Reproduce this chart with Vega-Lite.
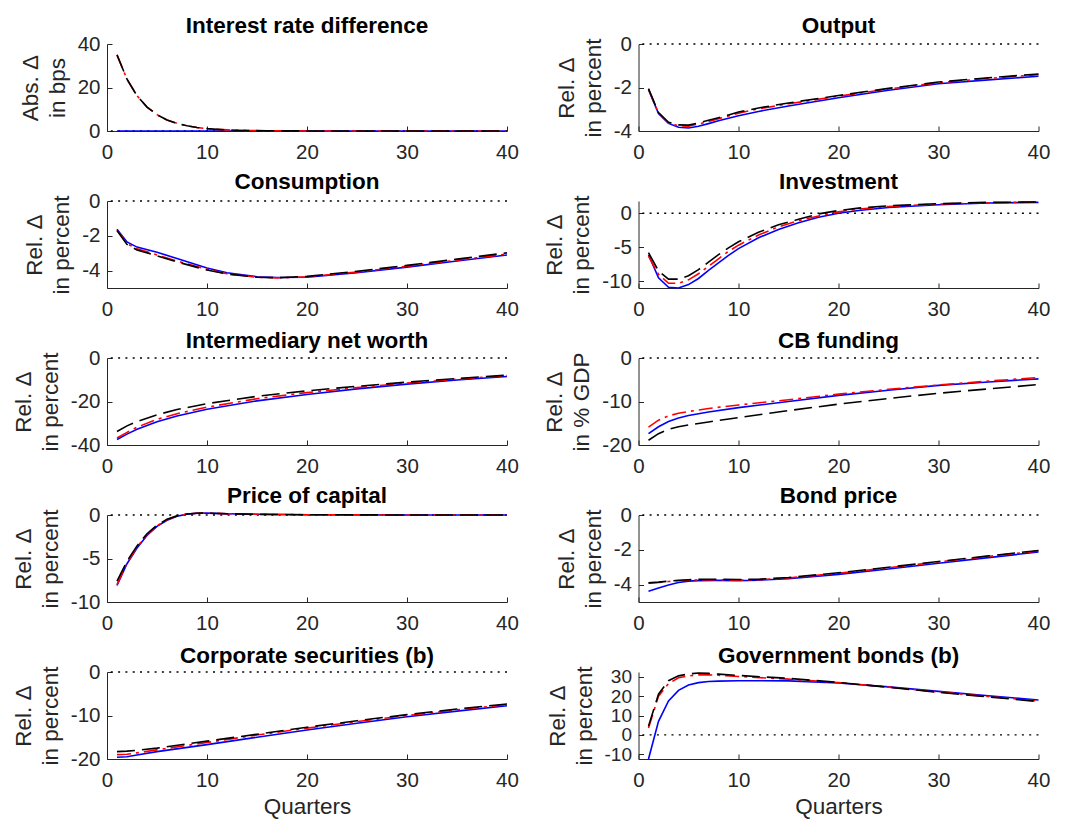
{
"$schema": "https://vega.github.io/schema/vega-lite/v6.json",
"autosize": "none",
"padding": {"left": 107, "top": 44, "right": 958, "bottom": 776},
"background": "white",
"data": {"values": [
{"p":"ir","q":1,"b":0,"r":35,"k":35},{"p":"ir","q":2,"b":0,"r":23.8,"k":23.8},{"p":"ir","q":3,"b":0,"r":16.2,"k":16.2},{"p":"ir","q":4,"b":0,"r":11,"k":11},{"p":"ir","q":5,"b":0,"r":7.5,"k":7.5},{"p":"ir","q":6,"b":0,"r":5.1,"k":5.1},{"p":"ir","q":7,"b":0,"r":3.5,"k":3.5},{"p":"ir","q":8,"b":0,"r":2.4,"k":2.4},{"p":"ir","q":9,"b":0,"r":1.6,"k":1.6},{"p":"ir","q":10,"b":0,"r":1.1,"k":1.1},{"p":"ir","q":11,"b":0,"r":0.75,"k":0.75},{"p":"ir","q":12,"b":0,"r":0.5,"k":0.5},{"p":"ir","q":13,"b":0,"r":0.35,"k":0.35},{"p":"ir","q":14,"b":0,"r":0.24,"k":0.24},{"p":"ir","q":15,"b":0,"r":0.16,"k":0.16},{"p":"ir","q":16,"b":0,"r":0.1,"k":0.1},{"p":"ir","q":20,"b":0,"r":0.02,"k":0.02},{"p":"ir","q":30,"b":0,"r":0,"k":0},{"p":"ir","q":40,"b":0,"r":0,"k":0},
{"p":"out","q":1,"b":-2.1,"r":-2.08,"k":-2.05},{"p":"out","q":2,"b":-3.2,"r":-3.18,"k":-3.15},{"p":"out","q":3,"b":-3.65,"r":-3.63,"k":-3.6},{"p":"out","q":4,"b":-3.83,"r":-3.76,"k":-3.72},{"p":"out","q":5,"b":-3.86,"r":-3.78,"k":-3.73},{"p":"out","q":6,"b":-3.78,"r":-3.68,"k":-3.63},{"p":"out","q":7,"b":-3.66,"r":-3.56,"k":-3.51},{"p":"out","q":8,"b":-3.53,"r":-3.44,"k":-3.39},{"p":"out","q":9,"b":-3.41,"r":-3.31,"k":-3.26},{"p":"out","q":10,"b":-3.3,"r":-3.18,"k":-3.13},{"p":"out","q":12,"b":-3.1,"r":-2.98,"k":-2.94},{"p":"out","q":15,"b":-2.85,"r":-2.75,"k":-2.71},{"p":"out","q":20,"b":-2.47,"r":-2.4,"k":-2.37},{"p":"out","q":25,"b":-2.13,"r":-2.07,"k":-2.04},{"p":"out","q":30,"b":-1.83,"r":-1.78,"k":-1.75},{"p":"out","q":35,"b":-1.65,"r":-1.58,"k":-1.55},{"p":"out","q":40,"b":-1.48,"r":-1.41,"k":-1.38},
{"p":"con","q":1,"b":-1.63,"r":-1.68,"k":-1.7},{"p":"con","q":2,"b":-2.35,"r":-2.45,"k":-2.5},{"p":"con","q":3,"b":-2.65,"r":-2.75,"k":-2.82},{"p":"con","q":5,"b":-2.95,"r":-3.1,"k":-3.15},{"p":"con","q":7,"b":-3.3,"r":-3.45,"k":-3.5},{"p":"con","q":10,"b":-3.85,"r":-3.93,"k":-3.97},{"p":"con","q":12,"b":-4.12,"r":-4.18,"k":-4.2},{"p":"con","q":15,"b":-4.35,"r":-4.38,"k":-4.38},{"p":"con","q":17,"b":-4.4,"r":-4.42,"k":-4.41},{"p":"con","q":20,"b":-4.38,"r":-4.36,"k":-4.33},{"p":"con","q":25,"b":-4.12,"r":-4.08,"k":-4.04},{"p":"con","q":30,"b":-3.8,"r":-3.75,"k":-3.7},{"p":"con","q":35,"b":-3.45,"r":-3.4,"k":-3.34},{"p":"con","q":40,"b":-3.1,"r":-3.05,"k":-2.98},
{"p":"inv","q":1,"b":-6.1,"r":-6.3,"k":-5.8},{"p":"inv","q":2,"b":-9.5,"r":-9.0,"k":-8.5},{"p":"inv","q":3,"b":-10.9,"r":-10.3,"k":-9.7},{"p":"inv","q":4,"b":-11.0,"r":-10.3,"k":-9.7},{"p":"inv","q":5,"b":-10.5,"r":-9.8,"k":-9.2},{"p":"inv","q":6,"b":-9.6,"r":-8.9,"k":-8.3},{"p":"inv","q":7,"b":-8.4,"r":-7.8,"k":-7.2},{"p":"inv","q":8,"b":-7.3,"r":-6.7,"k":-6.1},{"p":"inv","q":9,"b":-6.2,"r":-5.6,"k":-5.1},{"p":"inv","q":10,"b":-5.2,"r":-4.7,"k":-4.2},{"p":"inv","q":12,"b":-3.6,"r":-3.2,"k":-2.8},{"p":"inv","q":14,"b":-2.4,"r":-2.0,"k":-1.7},{"p":"inv","q":16,"b":-1.4,"r":-1.1,"k":-0.9},{"p":"inv","q":18,"b":-0.6,"r":-0.4,"k":-0.1},{"p":"inv","q":20,"b":0.0,"r":0.2,"k":0.4},{"p":"inv","q":22,"b":0.4,"r":0.6,"k":0.75},{"p":"inv","q":25,"b":0.85,"r":1.0,"k":1.1},{"p":"inv","q":30,"b":1.25,"r":1.35,"k":1.4},{"p":"inv","q":35,"b":1.5,"r":1.55,"k":1.6},{"p":"inv","q":40,"b":1.6,"r":1.65,"k":1.65},
{"p":"nw","q":1,"b":-37.5,"r":-36.8,"k":-33.8},{"p":"nw","q":2,"b":-35,"r":-34.2,"k":-31.2},{"p":"nw","q":3,"b":-32.8,"r":-31.8,"k":-29.2},{"p":"nw","q":5,"b":-29.3,"r":-28.2,"k":-26.1},{"p":"nw","q":7,"b":-26.7,"r":-25.6,"k":-23.7},{"p":"nw","q":10,"b":-23.6,"r":-22.6,"k":-21},{"p":"nw","q":15,"b":-19.7,"r":-18.7,"k":-17.6},{"p":"nw","q":20,"b":-16.8,"r":-15.9,"k":-15.1},{"p":"nw","q":25,"b":-14.2,"r":-13.6,"k":-13},{"p":"nw","q":30,"b":-12,"r":-11.5,"k":-11.1},{"p":"nw","q":35,"b":-10.1,"r":-9.7,"k":-9.4},{"p":"nw","q":40,"b":-8.5,"r":-8.1,"k":-7.9},
{"p":"cb","q":1,"b":-17.4,"r":-15.9,"k":-18.9},{"p":"cb","q":2,"b":-15.8,"r":-14.3,"k":-17.4},{"p":"cb","q":3,"b":-14.6,"r":-13.3,"k":-16.4},{"p":"cb","q":4,"b":-13.8,"r":-12.7,"k":-15.8},{"p":"cb","q":5,"b":-13.2,"r":-12.3,"k":-15.4},{"p":"cb","q":7,"b":-12.4,"r":-11.6,"k":-14.7},{"p":"cb","q":10,"b":-11.4,"r":-10.8,"k":-13.7},{"p":"cb","q":15,"b":-10,"r":-9.6,"k":-12.1},{"p":"cb","q":20,"b":-8.6,"r":-8.3,"k":-10.6},{"p":"cb","q":25,"b":-7.4,"r":-7.2,"k":-9.3},{"p":"cb","q":30,"b":-6.3,"r":-6.2,"k":-8.1},{"p":"cb","q":35,"b":-5.5,"r":-5.3,"k":-7.1},{"p":"cb","q":40,"b":-4.8,"r":-4.5,"k":-6.1},
{"p":"pk","q":1,"b":-8.1,"r":-8.0,"k":-7.6},{"p":"pk","q":2,"b":-5.6,"r":-5.5,"k":-5.3},{"p":"pk","q":3,"b":-3.8,"r":-3.7,"k":-3.55},{"p":"pk","q":4,"b":-2.35,"r":-2.25,"k":-2.15},{"p":"pk","q":5,"b":-1.3,"r":-1.25,"k":-1.15},{"p":"pk","q":6,"b":-0.6,"r":-0.55,"k":-0.5},{"p":"pk","q":7,"b":-0.15,"r":-0.12,"k":-0.1},{"p":"pk","q":8,"b":0.1,"r":0.1,"k":0.12},{"p":"pk","q":9,"b":0.2,"r":0.2,"k":0.2},{"p":"pk","q":10,"b":0.22,"r":0.22,"k":0.22},{"p":"pk","q":12,"b":0.15,"r":0.15,"k":0.15},{"p":"pk","q":15,"b":0.08,"r":0.08,"k":0.08},{"p":"pk","q":20,"b":0.03,"r":0.03,"k":0.03},{"p":"pk","q":30,"b":0,"r":0,"k":0},{"p":"pk","q":40,"b":0,"r":0,"k":0},
{"p":"bp","q":1,"b":-4.38,"r":-3.92,"k":-3.9},{"p":"bp","q":2,"b":-4.2,"r":-3.88,"k":-3.86},{"p":"bp","q":3,"b":-4.02,"r":-3.82,"k":-3.8},{"p":"bp","q":4,"b":-3.88,"r":-3.78,"k":-3.75},{"p":"bp","q":5,"b":-3.8,"r":-3.75,"k":-3.72},{"p":"bp","q":6,"b":-3.77,"r":-3.73,"k":-3.7},{"p":"bp","q":8,"b":-3.76,"r":-3.72,"k":-3.69},{"p":"bp","q":10,"b":-3.77,"r":-3.74,"k":-3.71},{"p":"bp","q":12,"b":-3.75,"r":-3.72,"k":-3.69},{"p":"bp","q":15,"b":-3.66,"r":-3.62,"k":-3.59},{"p":"bp","q":20,"b":-3.41,"r":-3.35,"k":-3.32},{"p":"bp","q":25,"b":-3.1,"r":-3.03,"k":-3.0},{"p":"bp","q":30,"b":-2.77,"r":-2.7,"k":-2.67},{"p":"bp","q":35,"b":-2.45,"r":-2.38,"k":-2.35},{"p":"bp","q":40,"b":-2.13,"r":-2.07,"k":-2.04},
{"p":"cs","q":1,"b":-19.6,"r":-19.0,"k":-18.3},{"p":"cs","q":2,"b":-19.5,"r":-18.9,"k":-18.2},{"p":"cs","q":3,"b":-19.1,"r":-18.6,"k":-18.0},{"p":"cs","q":5,"b":-18.3,"r":-17.9,"k":-17.5},{"p":"cs","q":10,"b":-16.7,"r":-16.2,"k":-15.9},{"p":"cs","q":15,"b":-15.0,"r":-14.5,"k":-14.3},{"p":"cs","q":20,"b":-13.35,"r":-12.9,"k":-12.7},{"p":"cs","q":25,"b":-11.8,"r":-11.4,"k":-11.2},{"p":"cs","q":30,"b":-10.3,"r":-10.0,"k":-9.8},{"p":"cs","q":35,"b":-9.0,"r":-8.7,"k":-8.5},{"p":"cs","q":40,"b":-7.75,"r":-7.5,"k":-7.35},
{"p":"gb","q":1,"b":-12.5,"r":3.5,"k":4.5},{"p":"gb","q":2,"b":7,"r":20,"k":21},{"p":"gb","q":3,"b":17.5,"r":26.5,"k":28},{"p":"gb","q":4,"b":23,"r":29.5,"k":30.5},{"p":"gb","q":5,"b":25.8,"r":30.5,"k":31.5},{"p":"gb","q":6,"b":27,"r":31,"k":32},{"p":"gb","q":7,"b":27.6,"r":31,"k":31.8},{"p":"gb","q":8,"b":27.8,"r":30.8,"k":31.4},{"p":"gb","q":10,"b":28,"r":30.2,"k":30.7},{"p":"gb","q":15,"b":27.9,"r":28.8,"k":29.2},{"p":"gb","q":20,"b":26.8,"r":27,"k":27.1},{"p":"gb","q":25,"b":24.8,"r":24.7,"k":24.6},{"p":"gb","q":30,"b":22.5,"r":22.2,"k":22},{"p":"gb","q":35,"b":20.2,"r":19.8,"k":19.6},{"p":"gb","q":40,"b":18,"r":17.5,"k":17.2}
]},
"columns": 2,
"bounds": "flush",
"spacing": {"row": 70, "column": 131.5},
"concat": [
{"title":{"text":"Interest rate difference","offset":-3.3},"width":400,"height":87,"layer":[
{"data":{"values":[{}]},"mark":{"type":"rule","color":"black","strokeDash":[2,5.3],"strokeWidth":1.3},"encoding":{"y":{"datum":0,"type":"quantitative","scale":{"domain":[0,40],"nice":false,"zero":false},"axis":{"values":[0,20,40],"title":["Abs. Δ","in bps"]}}}},
{"transform":[{"filter":"datum.p==='ir'"}],"mark":{"type":"line","color":"#0000FF"},"encoding":{"x":{"field":"q","type":"quantitative","scale":{"domain":[0,40],"nice":false},"axis":{"values":[0,10,20,30,40],"title":null}},"y":{"field":"b","type":"quantitative","scale":{"domain":[0,40],"nice":false,"zero":false},"axis":{"values":[0,20,40],"title":["Abs. Δ","in bps"]}}}},
{"transform":[{"filter":"datum.p==='ir'"}],"mark":{"type":"line","color":"#FF0000","strokeDash":[14,5,3,5]},"encoding":{"x":{"field":"q","type":"quantitative","scale":{"domain":[0,40],"nice":false},"axis":{"values":[0,10,20,30,40],"title":null}},"y":{"field":"r","type":"quantitative","scale":{"domain":[0,40],"nice":false,"zero":false},"axis":{"values":[0,20,40],"title":["Abs. Δ","in bps"]}}}},
{"transform":[{"filter":"datum.p==='ir'"}],"mark":{"type":"line","color":"#000000","strokeDash":[18,7]},"encoding":{"x":{"field":"q","type":"quantitative","scale":{"domain":[0,40],"nice":false},"axis":{"values":[0,10,20,30,40],"title":null}},"y":{"field":"k","type":"quantitative","scale":{"domain":[0,40],"nice":false,"zero":false},"axis":{"values":[0,20,40],"title":["Abs. Δ","in bps"]}}}}
]},
{"title":{"text":"Output","offset":-3.3},"width":400,"height":87,"layer":[
{"data":{"values":[{}]},"mark":{"type":"rule","color":"black","strokeDash":[2,5.3],"strokeWidth":1.3},"encoding":{"y":{"datum":0,"type":"quantitative","scale":{"domain":[-4,0],"nice":false,"zero":false},"axis":{"values":[-4,-2,0],"title":["Rel. Δ","in percent"]}}}},
{"transform":[{"filter":"datum.p==='out'"}],"mark":{"type":"line","color":"#0000FF"},"encoding":{"x":{"field":"q","type":"quantitative","scale":{"domain":[0,40],"nice":false},"axis":{"values":[0,10,20,30,40],"title":null}},"y":{"field":"b","type":"quantitative","scale":{"domain":[-4,0],"nice":false,"zero":false},"axis":{"values":[-4,-2,0],"title":["Rel. Δ","in percent"]}}}},
{"transform":[{"filter":"datum.p==='out'"}],"mark":{"type":"line","color":"#FF0000","strokeDash":[14,5,3,5]},"encoding":{"x":{"field":"q","type":"quantitative","scale":{"domain":[0,40],"nice":false},"axis":{"values":[0,10,20,30,40],"title":null}},"y":{"field":"r","type":"quantitative","scale":{"domain":[-4,0],"nice":false,"zero":false},"axis":{"values":[-4,-2,0],"title":["Rel. Δ","in percent"]}}}},
{"transform":[{"filter":"datum.p==='out'"}],"mark":{"type":"line","color":"#000000","strokeDash":[18,7]},"encoding":{"x":{"field":"q","type":"quantitative","scale":{"domain":[0,40],"nice":false},"axis":{"values":[0,10,20,30,40],"title":null}},"y":{"field":"k","type":"quantitative","scale":{"domain":[-4,0],"nice":false,"zero":false},"axis":{"values":[-4,-2,0],"title":["Rel. Δ","in percent"]}}}}
]},
{"title":{"text":"Consumption","offset":-2.3},"width":400,"height":87,"layer":[
{"data":{"values":[{}]},"mark":{"type":"rule","color":"black","strokeDash":[2,5.3],"strokeWidth":1.3},"encoding":{"y":{"datum":0,"type":"quantitative","scale":{"domain":[-5,0],"nice":false,"zero":false},"axis":{"values":[-4,-2,0],"title":["Rel. Δ","in percent"]}}}},
{"transform":[{"filter":"datum.p==='con'"}],"mark":{"type":"line","color":"#0000FF"},"encoding":{"x":{"field":"q","type":"quantitative","scale":{"domain":[0,40],"nice":false},"axis":{"values":[0,10,20,30,40],"title":null}},"y":{"field":"b","type":"quantitative","scale":{"domain":[-5,0],"nice":false,"zero":false},"axis":{"values":[-4,-2,0],"title":["Rel. Δ","in percent"]}}}},
{"transform":[{"filter":"datum.p==='con'"}],"mark":{"type":"line","color":"#FF0000","strokeDash":[14,5,3,5]},"encoding":{"x":{"field":"q","type":"quantitative","scale":{"domain":[0,40],"nice":false},"axis":{"values":[0,10,20,30,40],"title":null}},"y":{"field":"r","type":"quantitative","scale":{"domain":[-5,0],"nice":false,"zero":false},"axis":{"values":[-4,-2,0],"title":["Rel. Δ","in percent"]}}}},
{"transform":[{"filter":"datum.p==='con'"}],"mark":{"type":"line","color":"#000000","strokeDash":[18,7]},"encoding":{"x":{"field":"q","type":"quantitative","scale":{"domain":[0,40],"nice":false},"axis":{"values":[0,10,20,30,40],"title":null}},"y":{"field":"k","type":"quantitative","scale":{"domain":[-5,0],"nice":false,"zero":false},"axis":{"values":[-4,-2,0],"title":["Rel. Δ","in percent"]}}}}
]},
{"title":{"text":"Investment","offset":1.7},"width":400,"height":87,"layer":[
{"data":{"values":[{}]},"mark":{"type":"rule","color":"black","strokeDash":[2,5.3],"strokeWidth":1.3},"encoding":{"y":{"datum":0,"type":"quantitative","scale":{"domain":[-11,1.8],"nice":false,"zero":false},"axis":{"values":[-10,-5,0],"title":["Rel. Δ","in percent"]}}}},
{"transform":[{"filter":"datum.p==='inv'"}],"mark":{"type":"line","color":"#0000FF"},"encoding":{"x":{"field":"q","type":"quantitative","scale":{"domain":[0,40],"nice":false},"axis":{"values":[0,10,20,30,40],"title":null}},"y":{"field":"b","type":"quantitative","scale":{"domain":[-11,1.8],"nice":false,"zero":false},"axis":{"values":[-10,-5,0],"title":["Rel. Δ","in percent"]}}}},
{"transform":[{"filter":"datum.p==='inv'"}],"mark":{"type":"line","color":"#FF0000","strokeDash":[14,5,3,5]},"encoding":{"x":{"field":"q","type":"quantitative","scale":{"domain":[0,40],"nice":false},"axis":{"values":[0,10,20,30,40],"title":null}},"y":{"field":"r","type":"quantitative","scale":{"domain":[-11,1.8],"nice":false,"zero":false},"axis":{"values":[-10,-5,0],"title":["Rel. Δ","in percent"]}}}},
{"transform":[{"filter":"datum.p==='inv'"}],"mark":{"type":"line","color":"#000000","strokeDash":[18,7]},"encoding":{"x":{"field":"q","type":"quantitative","scale":{"domain":[0,40],"nice":false},"axis":{"values":[0,10,20,30,40],"title":null}},"y":{"field":"k","type":"quantitative","scale":{"domain":[-11,1.8],"nice":false,"zero":false},"axis":{"values":[-10,-5,0],"title":["Rel. Δ","in percent"]}}}}
]},
{"title":{"text":"Intermediary net worth","offset":-4.3},"width":400,"height":87,"layer":[
{"data":{"values":[{}]},"mark":{"type":"rule","color":"black","strokeDash":[2,5.3],"strokeWidth":1.3},"encoding":{"y":{"datum":0,"type":"quantitative","scale":{"domain":[-40,0],"nice":false,"zero":false},"axis":{"values":[-40,-20,0],"title":["Rel. Δ","in percent"]}}}},
{"transform":[{"filter":"datum.p==='nw'"}],"mark":{"type":"line","color":"#0000FF"},"encoding":{"x":{"field":"q","type":"quantitative","scale":{"domain":[0,40],"nice":false},"axis":{"values":[0,10,20,30,40],"title":null}},"y":{"field":"b","type":"quantitative","scale":{"domain":[-40,0],"nice":false,"zero":false},"axis":{"values":[-40,-20,0],"title":["Rel. Δ","in percent"]}}}},
{"transform":[{"filter":"datum.p==='nw'"}],"mark":{"type":"line","color":"#FF0000","strokeDash":[14,5,3,5]},"encoding":{"x":{"field":"q","type":"quantitative","scale":{"domain":[0,40],"nice":false},"axis":{"values":[0,10,20,30,40],"title":null}},"y":{"field":"r","type":"quantitative","scale":{"domain":[-40,0],"nice":false,"zero":false},"axis":{"values":[-40,-20,0],"title":["Rel. Δ","in percent"]}}}},
{"transform":[{"filter":"datum.p==='nw'"}],"mark":{"type":"line","color":"#000000","strokeDash":[18,7]},"encoding":{"x":{"field":"q","type":"quantitative","scale":{"domain":[0,40],"nice":false},"axis":{"values":[0,10,20,30,40],"title":null}},"y":{"field":"k","type":"quantitative","scale":{"domain":[-40,0],"nice":false,"zero":false},"axis":{"values":[-40,-20,0],"title":["Rel. Δ","in percent"]}}}}
]},
{"title":{"text":"CB funding","offset":-4.3},"width":400,"height":87,"layer":[
{"data":{"values":[{}]},"mark":{"type":"rule","color":"black","strokeDash":[2,5.3],"strokeWidth":1.3},"encoding":{"y":{"datum":0,"type":"quantitative","scale":{"domain":[-20,0],"nice":false,"zero":false},"axis":{"values":[-20,-10,0],"title":["Rel. Δ","in % GDP"]}}}},
{"transform":[{"filter":"datum.p==='cb'"}],"mark":{"type":"line","color":"#0000FF"},"encoding":{"x":{"field":"q","type":"quantitative","scale":{"domain":[0,40],"nice":false},"axis":{"values":[0,10,20,30,40],"title":null}},"y":{"field":"b","type":"quantitative","scale":{"domain":[-20,0],"nice":false,"zero":false},"axis":{"values":[-20,-10,0],"title":["Rel. Δ","in % GDP"]}}}},
{"transform":[{"filter":"datum.p==='cb'"}],"mark":{"type":"line","color":"#FF0000","strokeDash":[14,5,3,5]},"encoding":{"x":{"field":"q","type":"quantitative","scale":{"domain":[0,40],"nice":false},"axis":{"values":[0,10,20,30,40],"title":null}},"y":{"field":"r","type":"quantitative","scale":{"domain":[-20,0],"nice":false,"zero":false},"axis":{"values":[-20,-10,0],"title":["Rel. Δ","in % GDP"]}}}},
{"transform":[{"filter":"datum.p==='cb'"}],"mark":{"type":"line","color":"#000000","strokeDash":[18,7]},"encoding":{"x":{"field":"q","type":"quantitative","scale":{"domain":[0,40],"nice":false},"axis":{"values":[0,10,20,30,40],"title":null}},"y":{"field":"k","type":"quantitative","scale":{"domain":[-20,0],"nice":false,"zero":false},"axis":{"values":[-20,-10,0],"title":["Rel. Δ","in % GDP"]}}}}
]},
{"title":{"text":"Price of capital","offset":-2.3},"width":400,"height":87,"layer":[
{"data":{"values":[{}]},"mark":{"type":"rule","color":"black","strokeDash":[2,5.3],"strokeWidth":1.3},"encoding":{"y":{"datum":0,"type":"quantitative","scale":{"domain":[-10,0],"nice":false,"zero":false},"axis":{"values":[-10,-5,0],"title":["Rel. Δ","in percent"]}}}},
{"transform":[{"filter":"datum.p==='pk'"}],"mark":{"type":"line","color":"#0000FF"},"encoding":{"x":{"field":"q","type":"quantitative","scale":{"domain":[0,40],"nice":false},"axis":{"values":[0,10,20,30,40],"title":null}},"y":{"field":"b","type":"quantitative","scale":{"domain":[-10,0],"nice":false,"zero":false},"axis":{"values":[-10,-5,0],"title":["Rel. Δ","in percent"]}}}},
{"transform":[{"filter":"datum.p==='pk'"}],"mark":{"type":"line","color":"#FF0000","strokeDash":[14,5,3,5]},"encoding":{"x":{"field":"q","type":"quantitative","scale":{"domain":[0,40],"nice":false},"axis":{"values":[0,10,20,30,40],"title":null}},"y":{"field":"r","type":"quantitative","scale":{"domain":[-10,0],"nice":false,"zero":false},"axis":{"values":[-10,-5,0],"title":["Rel. Δ","in percent"]}}}},
{"transform":[{"filter":"datum.p==='pk'"}],"mark":{"type":"line","color":"#000000","strokeDash":[18,7]},"encoding":{"x":{"field":"q","type":"quantitative","scale":{"domain":[0,40],"nice":false},"axis":{"values":[0,10,20,30,40],"title":null}},"y":{"field":"k","type":"quantitative","scale":{"domain":[-10,0],"nice":false,"zero":false},"axis":{"values":[-10,-5,0],"title":["Rel. Δ","in percent"]}}}}
]},
{"title":{"text":"Bond price","offset":-2.3},"width":400,"height":87,"layer":[
{"data":{"values":[{}]},"mark":{"type":"rule","color":"black","strokeDash":[2,5.3],"strokeWidth":1.3},"encoding":{"y":{"datum":0,"type":"quantitative","scale":{"domain":[-5,0],"nice":false,"zero":false},"axis":{"values":[-4,-2,0],"title":["Rel. Δ","in percent"]}}}},
{"transform":[{"filter":"datum.p==='bp'"}],"mark":{"type":"line","color":"#0000FF"},"encoding":{"x":{"field":"q","type":"quantitative","scale":{"domain":[0,40],"nice":false},"axis":{"values":[0,10,20,30,40],"title":null}},"y":{"field":"b","type":"quantitative","scale":{"domain":[-5,0],"nice":false,"zero":false},"axis":{"values":[-4,-2,0],"title":["Rel. Δ","in percent"]}}}},
{"transform":[{"filter":"datum.p==='bp'"}],"mark":{"type":"line","color":"#FF0000","strokeDash":[14,5,3,5]},"encoding":{"x":{"field":"q","type":"quantitative","scale":{"domain":[0,40],"nice":false},"axis":{"values":[0,10,20,30,40],"title":null}},"y":{"field":"r","type":"quantitative","scale":{"domain":[-5,0],"nice":false,"zero":false},"axis":{"values":[-4,-2,0],"title":["Rel. Δ","in percent"]}}}},
{"transform":[{"filter":"datum.p==='bp'"}],"mark":{"type":"line","color":"#000000","strokeDash":[18,7]},"encoding":{"x":{"field":"q","type":"quantitative","scale":{"domain":[0,40],"nice":false},"axis":{"values":[0,10,20,30,40],"title":null}},"y":{"field":"k","type":"quantitative","scale":{"domain":[-5,0],"nice":false,"zero":false},"axis":{"values":[-4,-2,0],"title":["Rel. Δ","in percent"]}}}}
]},
{"title":{"text":"Corporate securities (b)","offset":-5.3},"width":400,"height":87,"layer":[
{"data":{"values":[{}]},"mark":{"type":"rule","color":"black","strokeDash":[2,5.3],"strokeWidth":1.3},"encoding":{"y":{"datum":0,"type":"quantitative","scale":{"domain":[-20,0],"nice":false,"zero":false},"axis":{"values":[-20,-10,0],"title":["Rel. Δ","in percent"]}}}},
{"transform":[{"filter":"datum.p==='cs'"}],"mark":{"type":"line","color":"#0000FF"},"encoding":{"x":{"field":"q","type":"quantitative","scale":{"domain":[0,40],"nice":false},"axis":{"values":[0,10,20,30,40],"title":"Quarters"}},"y":{"field":"b","type":"quantitative","scale":{"domain":[-20,0],"nice":false,"zero":false},"axis":{"values":[-20,-10,0],"title":["Rel. Δ","in percent"]}}}},
{"transform":[{"filter":"datum.p==='cs'"}],"mark":{"type":"line","color":"#FF0000","strokeDash":[14,5,3,5]},"encoding":{"x":{"field":"q","type":"quantitative","scale":{"domain":[0,40],"nice":false},"axis":{"values":[0,10,20,30,40],"title":"Quarters"}},"y":{"field":"r","type":"quantitative","scale":{"domain":[-20,0],"nice":false,"zero":false},"axis":{"values":[-20,-10,0],"title":["Rel. Δ","in percent"]}}}},
{"transform":[{"filter":"datum.p==='cs'"}],"mark":{"type":"line","color":"#000000","strokeDash":[18,7]},"encoding":{"x":{"field":"q","type":"quantitative","scale":{"domain":[0,40],"nice":false},"axis":{"values":[0,10,20,30,40],"title":"Quarters"}},"y":{"field":"k","type":"quantitative","scale":{"domain":[-20,0],"nice":false,"zero":false},"axis":{"values":[-20,-10,0],"title":["Rel. Δ","in percent"]}}}}
]},
{"title":{"text":"Government bonds (b)","offset":-1.3},"width":400,"height":87,"layer":[
{"data":{"values":[{}]},"mark":{"type":"rule","color":"black","strokeDash":[2,5.3],"strokeWidth":1.3},"encoding":{"y":{"datum":0,"type":"quantitative","scale":{"domain":[-12.5,32.5],"nice":false,"zero":false},"axis":{"values":[-10,0,10,20,30],"labelFontSize":19,"title":["Rel. Δ","in percent"]}}}},
{"transform":[{"filter":"datum.p==='gb'"}],"mark":{"type":"line","color":"#0000FF"},"encoding":{"x":{"field":"q","type":"quantitative","scale":{"domain":[0,40],"nice":false},"axis":{"values":[0,10,20,30,40],"title":"Quarters"}},"y":{"field":"b","type":"quantitative","scale":{"domain":[-12.5,32.5],"nice":false,"zero":false},"axis":{"values":[-10,0,10,20,30],"labelFontSize":19,"title":["Rel. Δ","in percent"]}}}},
{"transform":[{"filter":"datum.p==='gb'"}],"mark":{"type":"line","color":"#FF0000","strokeDash":[14,5,3,5]},"encoding":{"x":{"field":"q","type":"quantitative","scale":{"domain":[0,40],"nice":false},"axis":{"values":[0,10,20,30,40],"title":"Quarters"}},"y":{"field":"r","type":"quantitative","scale":{"domain":[-12.5,32.5],"nice":false,"zero":false},"axis":{"values":[-10,0,10,20,30],"labelFontSize":19,"title":["Rel. Δ","in percent"]}}}},
{"transform":[{"filter":"datum.p==='gb'"}],"mark":{"type":"line","color":"#000000","strokeDash":[18,7]},"encoding":{"x":{"field":"q","type":"quantitative","scale":{"domain":[0,40],"nice":false},"axis":{"values":[0,10,20,30,40],"title":"Quarters"}},"y":{"field":"k","type":"quantitative","scale":{"domain":[-12.5,32.5],"nice":false,"zero":false},"axis":{"values":[-10,0,10,20,30],"labelFontSize":19,"title":["Rel. Δ","in percent"]}}}}
]}
],
"config": {
"view": {"stroke": null},
"font": "Liberation Sans",
"line": {"strokeWidth": 1.6},
"axis": {"grid": false, "domainColor": "#262626", "tickColor": "#262626", "labelColor": "#262626", "titleColor": "#262626", "labelFont": "Liberation Sans", "titleFont": "Liberation Sans", "labelFontSize": 20.5, "titleFontSize": 22.5, "titleFontWeight": "normal", "tickSize": -5, "domainWidth": 1, "tickWidth": 1, "labelFlush": false, "labelOverlap": false, "labelExpr": "'' + datum.value"},
"axisX": {"labelPadding": 16, "labelAngle": 0, "titlePadding": 5},
"axisY": {"labelPadding": 12, "titlePadding": 8, "titleLineHeight": 27},
"title": {"fontSize": 22.5, "fontWeight": "bold", "color": "black", "font": "Liberation Sans", "frame": "group", "baseline": "alphabetic"}
}
}
